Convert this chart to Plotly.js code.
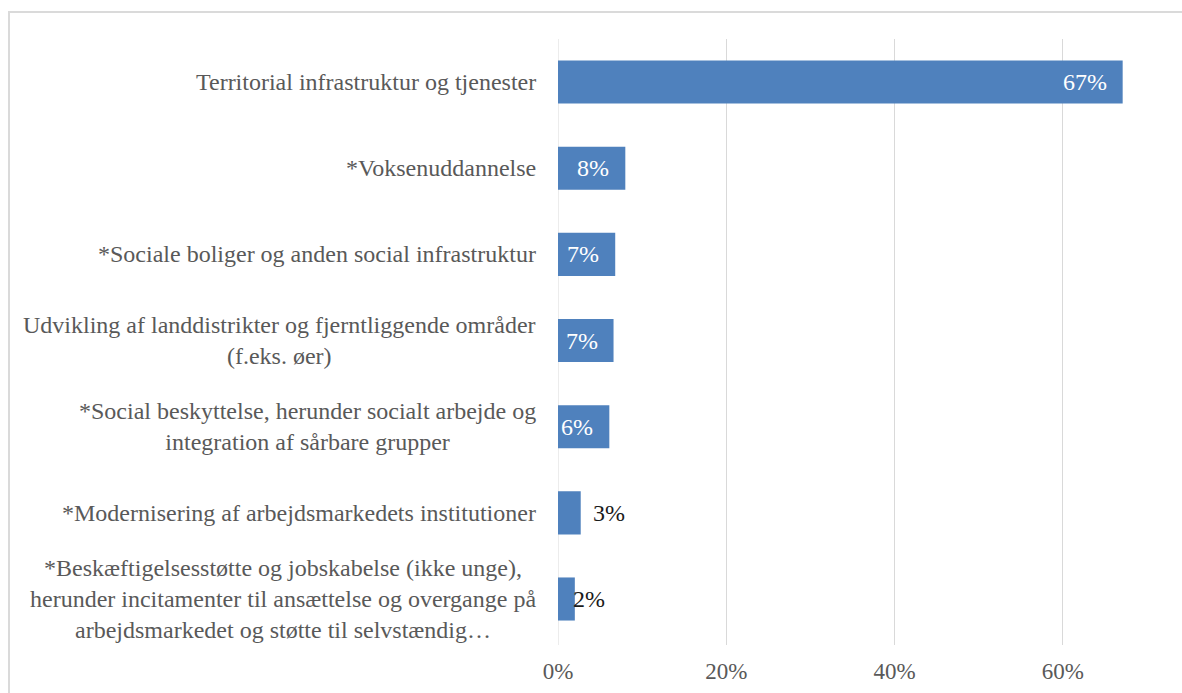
<!DOCTYPE html>
<html>
<head>
<meta charset="utf-8">
<script src="https://cdn.plot.ly/plotly-3.0.1.min.js"></script>
<style>
  html, body { margin: 0; padding: 0; overflow: hidden; background: #fff; }
  #wrap { position: relative; width: 1182px; height: 693px; overflow: hidden; }
  #frame { position: absolute; left: 8px; top: 11px; width: 1300px; height: 800px;
           border: 2px solid #dadada; box-sizing: border-box; pointer-events: none; z-index: 2; }
  #chart { position: absolute; left: 0; top: 0; width: 1182px; height: 693px; }
</style>
</head>
<body>
<div id="wrap">
  <div id="chart"></div>
  <div id="frame"></div>
</div>
<script>
// Categories (top to bottom)
const categories = [
  "Territorial infrastruktur og tjenester",
  "*Voksenuddannelse",
  "*Sociale boliger og anden social infrastruktur",
  "Udvikling af landdistrikter og fjerntliggende områder<br>(f.eks. øer)",
  "*Social beskyttelse, herunder socialt arbejde og<br>integration af sårbare grupper",
  "*Modernisering af arbejdsmarkedets institutioner",
  "*Beskæftigelsesstøtte og jobskabelse (ikke unge),<br>herunder incitamenter til ansættelse og overgange på<br>arbejdsmarkedet og støtte til selvstændig…"
];
// Shares (fractions)
const values = [0.671, 0.080, 0.068, 0.066, 0.061, 0.027, 0.020];
// X axis ticks
const tickValues = [0, 0.2, 0.4, 0.6];
const tickLabels = ["0%", "20%", "40%", "60%"];
// Data label placement style per bar
const labelPlacement = ["inside", "inside", "inside", "inside", "inside", "outside", "edge"];

const SERIF = "Liberation Serif";
const ids = categories.map((c, i) => "c" + i);

const trace = {
  type: "bar",
  orientation: "h",
  y: ids,
  x: values,
  marker: { color: "#4f81bd", line: { width: 0 } },
  hoverinfo: "none"
};

const annotations = [];
categories.forEach((c, i) => {
  annotations.push({
    xref: "paper", yref: "y", x: 0, y: ids[i],
    xanchor: "right", yanchor: "middle", xshift: -20,
    text: c, showarrow: false, align: "center",
    font: { family: SERIF, size: 24, color: "#595959" }
  });
});
values.forEach((v, i) => {
  const p = labelPlacement[i];
  const txt = Math.round(v * 100) + "%";
  let a = {
    xref: "x", yref: "y", x: v, y: ids[i], yanchor: "middle",
    text: txt, showarrow: false,
    font: { family: SERIF, size: 24, color: "#ffffff" }
  };
  if (p === "inside") { a.xanchor = "right"; a.xshift = -14; }
  else if (p === "outside") { a.xanchor = "left"; a.xshift = 10; a.font.color = "#1a1a1a"; }
  else { a.xanchor = "left"; a.xshift = -4; a.font.color = "#1a1a1a"; }
  annotations.push(a);
});

const layout = {
  width: 1182, height: 693,
  margin: { l: 558, r: 0, t: 39, b: 48 },
  paper_bgcolor: "rgba(0,0,0,0)",
  plot_bgcolor: "rgba(0,0,0,0)",
  bargap: 0.5,
  showlegend: false,
  font: { family: SERIF },
  xaxis: {
    range: [0, 0.7415],
    tickvals: tickValues,
    ticktext: tickLabels,
    showgrid: true, gridcolor: "#d9d9d9", gridwidth: 1,
    zeroline: false, showline: false,
    ticks: "outside", ticklen: 5, tickcolor: "rgba(0,0,0,0)",
    tickfont: { family: SERIF, size: 23, color: "#595959" },
    fixedrange: true
  },
  yaxis: {
    autorange: "reversed",
    showticklabels: false,
    showgrid: false, zeroline: false, showline: false, ticks: "",
    fixedrange: true
  },
  shapes: [{
    type: "line", xref: "x", yref: "paper", x0: 0, x1: 0, y0: 0, y1: 1,
    line: { color: "#d9d9d9", width: 1 }, layer: "below"
  }],
  annotations: annotations
};

Plotly.newPlot("chart", [trace], layout, { displayModeBar: false, staticPlot: true });
</script>
</body>
</html>
